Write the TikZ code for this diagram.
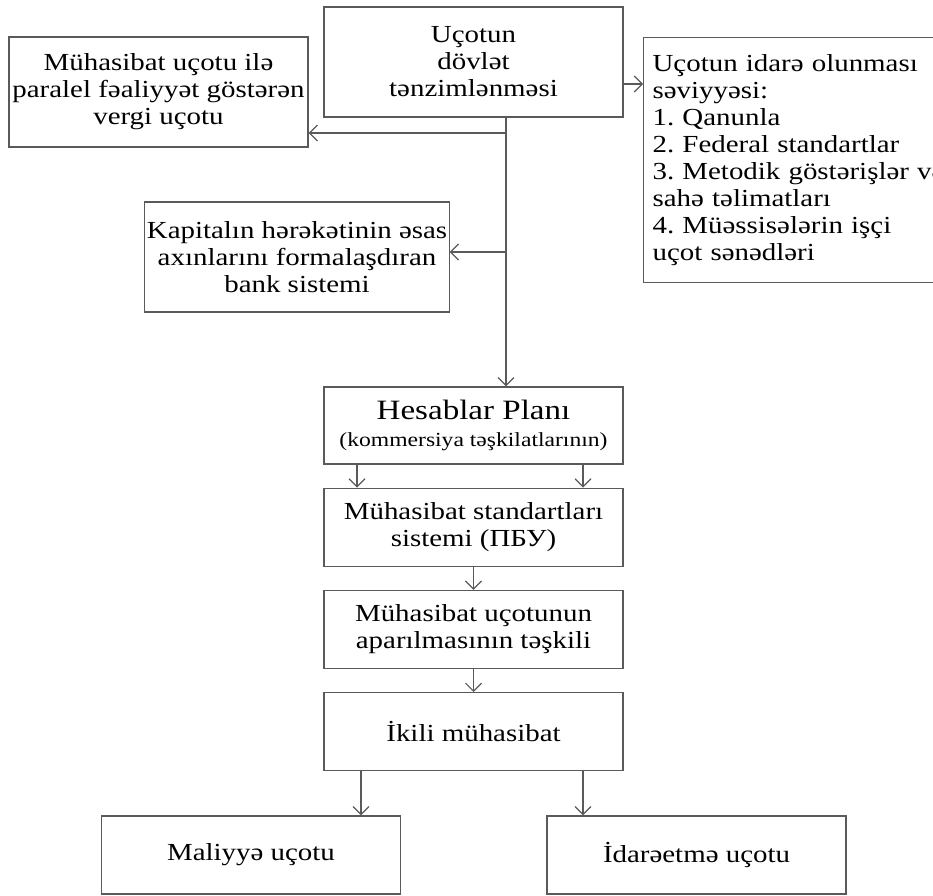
\documentclass[tikz,border=0pt]{standalone}
\usepackage{fontspec}
\setmainfont{Liberation Serif}[FakeStretch=1.18]
\usetikzlibrary{arrows.meta,positioning}
\definecolor{UcGray}{HTML}{5A5A5A}
\frenchspacing

\begin{document}
\begin{tikzpicture}[x=1pt,y=1pt,node distance=23pt,
  bx/.style={draw=UcGray,line width=1.2pt,align=center,minimum width=299pt,minimum height=78pt,inner xsep=2pt,font=\fontsize{24.5}{27}\selectfont},
  ar/.style={-{Straight Barb[length=8pt,width=16pt]},draw=UcGray,line width=1.2pt}]
  \useasboundingbox (0,0) rectangle (933,895);
  \node[bx,minimum height=110pt] (tanz) at (473.5,833) {Uçotun\\dövlət\\tənzimlənməsi};
  \node[bx,minimum height=110pt] (vergi) at (158.5,803) {Mühasibat uçotu ilə\\paralel fəaliyyət göstərən\\vergi uçotu};
  \node[bx,minimum height=110pt] (bank) at (297,638) {Kapitalın hərəkətinin əsas\\axınlarını formalaşdıran\\bank sistemi};
  \node[bx,anchor=north west,align=left,text width=300pt,inner xsep=9pt,minimum height=245pt] (sev) at (643,858)
    {Uçotun idarə olunması\\səviyyəsi:\\1. Qanunla\\2. Federal standartlar\\3. Metodik göstərişlər və\\sahə təlimatları\\4. Müəssisələrin işçi\\uçot sənədləri};
  \node[bx,minimum height=77pt] (hesab) at (473.5,469.5)
    {{\fontsize{28}{31}\selectfont Hesablar Planı}\\{\fontsize{20}{25}\selectfont (kommersiya təşkilatlarının)}};
  \node[bx,below=of hesab] (std) {Mühasibat standartları\\sistemi (ПБУ)};
  \node[bx,below=of std] (teskil) {Mühasibat uçotunun\\aparılmasının təşkili};
  \node[bx,below=of teskil] (ikili) {İkili mühasibat};
  \node[bx] (maliyye) at (251,40) {Maliyyə uçotu};
  \node[bx] (idare) at (696.5,40) {İdarəetmə uçotu};
  % main trunk and side branches
  \coordinate (j1) at (506,762);
  \coordinate (j2) at (506,643);
  \coordinate (r1) at ([yshift=-22pt]tanz.east);
  \draw[ar] ([xshift=32.5pt]tanz.south) -- ([xshift=32.5pt]hesab.north);
  \draw[ar] (j1) -- (j1 -| vergi.east);
  \draw[ar] (j2) -- (j2 -| bank.east);
  \draw[ar] (r1) -- (r1 -| sev.west);
  \foreach \dx in {-116.5,109.5}{\draw[ar] ([xshift=\dx pt]hesab.south) -- ([xshift=\dx pt]std.north);}
  \foreach \a/\b in {std/teskil,teskil/ikili}{\draw[ar] (\a) -- (\b);}
  \coordinate (m1) at ([xshift=-112.5pt]ikili.south);
  \coordinate (m2) at ([xshift=109.5pt]ikili.south);
  \draw[ar] (m1) -- (m1 |- maliyye.north);
  \draw[ar] (m2) -- (m2 |- idare.north);
\end{tikzpicture}
\end{document}
